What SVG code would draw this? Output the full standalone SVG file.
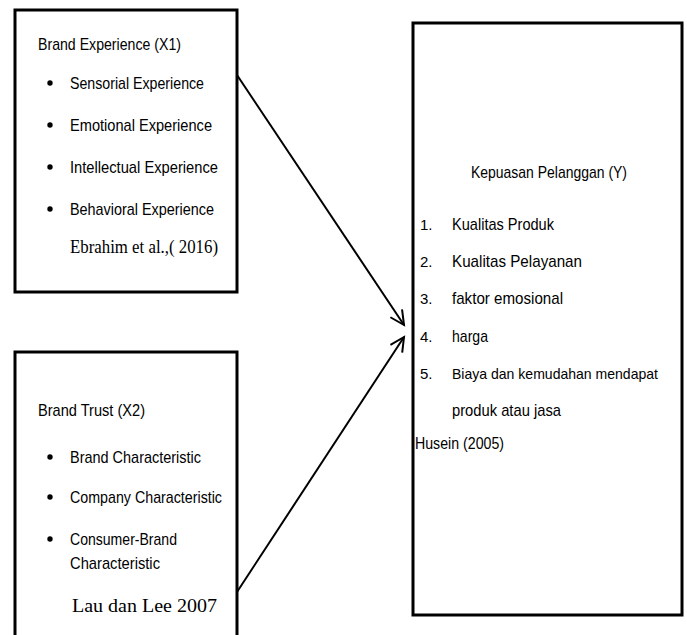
<svg xmlns="http://www.w3.org/2000/svg" width="687" height="635" viewBox="0 0 687 635">
<defs>
<style>
.box{fill:none;stroke:#000;stroke-width:3}
.t{font-family:"Liberation Sans",Arial,sans-serif;font-size:17px;fill:#000}
.n{font-family:"Liberation Sans",Arial,sans-serif;font-size:15px;fill:#000}
.s{font-family:"Liberation Serif","Times New Roman",serif;font-size:18px;fill:#000}
.b{fill:#000}
.c{stroke:#000;stroke-width:2;fill:none}
</style>
<marker id="ah" markerUnits="userSpaceOnUse" markerWidth="20" markerHeight="20" refX="16" refY="8" orient="auto">
<path d="M2,1 L16,8 L2,15" fill="none" stroke="#000" stroke-width="2"/>
</marker>
</defs>
<rect width="687" height="635" fill="#fff"/>
<g id="x1">
<rect class="box" x="15" y="10" width="222" height="282"/>
<text class="t" x="38" y="50" textLength="143" lengthAdjust="spacingAndGlyphs">Brand Experience (X1)</text>
<circle class="b" cx="50" cy="83" r="2.7"/>
<text class="t" x="70" y="89" textLength="134" lengthAdjust="spacingAndGlyphs">Sensorial Experience</text>
<circle class="b" cx="50" cy="125" r="2.7"/>
<text class="t" x="70" y="131" textLength="142" lengthAdjust="spacingAndGlyphs">Emotional Experience</text>
<circle class="b" cx="50" cy="167" r="2.7"/>
<text class="t" x="70" y="173" textLength="148" lengthAdjust="spacingAndGlyphs">Intellectual Experience</text>
<circle class="b" cx="50" cy="209" r="2.7"/>
<text class="t" x="70" y="215" textLength="144" lengthAdjust="spacingAndGlyphs">Behavioral Experience</text>
<text class="s" x="70" y="253" textLength="148" lengthAdjust="spacingAndGlyphs">Ebrahim et al.,( 2016)</text>
</g>
<g id="x2">
<path class="box" d="M15,635 V352 H237 V635"/>
<text class="t" x="38" y="416" textLength="107" lengthAdjust="spacingAndGlyphs">Brand Trust (X2)</text>
<circle class="b" cx="50" cy="457" r="2.7"/>
<text class="t" x="70" y="463" textLength="131" lengthAdjust="spacingAndGlyphs">Brand Characteristic</text>
<circle class="b" cx="50" cy="497" r="2.7"/>
<text class="t" x="70" y="503" textLength="152" lengthAdjust="spacingAndGlyphs">Company Characteristic</text>
<circle class="b" cx="50" cy="539" r="2.7"/>
<text class="t" x="70" y="545" textLength="107" lengthAdjust="spacingAndGlyphs">Consumer-Brand</text>
<text class="t" x="70" y="569" textLength="90" lengthAdjust="spacingAndGlyphs">Characteristic</text>
<text class="s" x="72" y="612" textLength="145" lengthAdjust="spacingAndGlyphs">Lau dan Lee 2007</text>
</g>
<g id="y">
<rect class="box" x="413" y="23" width="269" height="592"/>
<text class="t" x="471" y="178" textLength="156" lengthAdjust="spacingAndGlyphs">Kepuasan Pelanggan (Y)</text>
<text class="n" x="420" y="230">1.</text>
<text class="t" x="452" y="230" textLength="102" lengthAdjust="spacingAndGlyphs">Kualitas Produk</text>
<text class="n" x="420" y="267">2.</text>
<text class="t" x="452" y="267" textLength="130" lengthAdjust="spacingAndGlyphs">Kualitas Pelayanan</text>
<text class="n" x="420" y="304">3.</text>
<text class="t" x="452" y="304" textLength="111" lengthAdjust="spacingAndGlyphs">faktor emosional</text>
<text class="n" x="420" y="342">4.</text>
<text class="t" x="452" y="342" textLength="36" lengthAdjust="spacingAndGlyphs">harga</text>
<text class="n" x="420" y="379">5.</text>
<text class="t" x="452" y="379" font-size="15" textLength="206" lengthAdjust="spacingAndGlyphs" style="font-size:15px">Biaya dan kemudahan mendapat</text>
<text class="t" x="452" y="416" textLength="109" lengthAdjust="spacingAndGlyphs">produk atau jasa</text>
<text class="t" x="415" y="449" textLength="89" lengthAdjust="spacingAndGlyphs">Husein (2005)</text>
</g>
<g id="connectors">
<line class="c" x1="237" y1="75" x2="404" y2="325" marker-end="url(#ah)"/>
<line class="c" x1="237" y1="592" x2="404" y2="337" marker-end="url(#ah)"/>
</g>
</svg>
